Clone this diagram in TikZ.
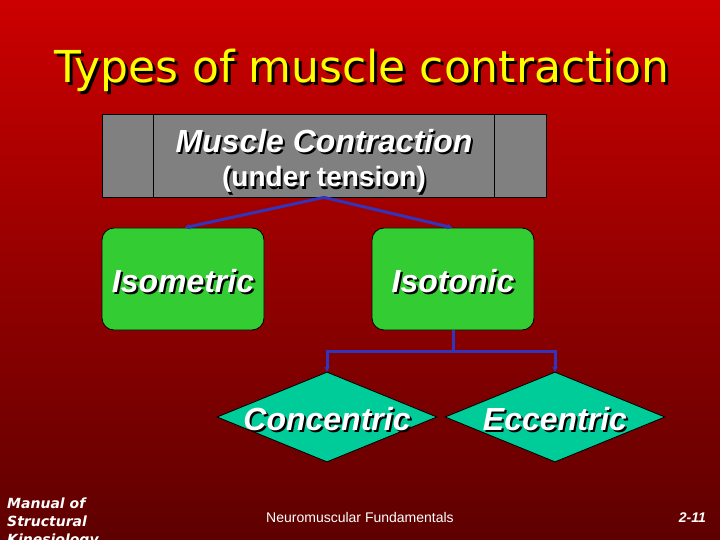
\documentclass[tikz,border=0pt]{standalone}
\usepackage{fontspec}
\setmainfont{Liberation Sans}
\newfontfamily\dejavu{DejaVu Sans}
\usetikzlibrary{arrows.meta, positioning, shapes.geometric}
\definecolor{cred}{HTML}{CC0000}
\definecolor{cdark}{HTML}{5E0000}
\definecolor{cgrey}{HTML}{808080}
\definecolor{cgreen}{HTML}{33CC33}
\definecolor{cteal}{HTML}{00CC99}
\definecolor{cblue}{HTML}{3333BB}
\definecolor{cyellow}{HTML}{FFFF00}
% text with a dark drop shadow
\newcommand{\shtext}[2][2pt]{\rlap{\kern#1\raisebox{-#1}{\color{black}#2}}#2}
\tikzset{
  box/.style={draw=black, fill=#1, line width=0.8pt, inner sep=0pt},
  box/.default=cgrey,
  diam/.style={diamond, draw=black, fill=cteal, line width=0.8pt, inner sep=0pt, minimum width=220pt, minimum height=90pt},
  bigtext/.style={text=white, font=\fontsize{32}{36}\selectfont\bfseries\itshape},
  arrow/.style={-{Stealth[length=5pt, width=6pt]}, draw=cblue, line width=3pt},
  foot/.style={text=white, inner sep=0pt},
}

\begin{document}
\begin{tikzpicture}[x=1pt, y=-1pt]
  \useasboundingbox (0,0) rectangle (720,540);
  \clip (0,0) rectangle (720,540);
  \shade[top color=cred, bottom color=cdark] (0,0) rectangle (720,540);
  % title
  \node[text=cyellow, font=\dejavu\fontsize{44}{48}\selectfont, anchor=base] (title) at (362,83) {\shtext[3pt]{Types of muscle contraction}};
  % top box
  \node[box, minimum width=444pt, minimum height=83pt] (mc) at (324,155.5) {};
  \draw[line width=0.8pt] ([xshift=52pt]mc.north west) -- ([xshift=52pt]mc.south west);
  \draw[line width=0.8pt] ([xshift=-52pt]mc.north east) -- ([xshift=-52pt]mc.south east);
  \node[bigtext, anchor=base] (mctitle) at (324,153) {\shtext{Muscle Contraction}};
  \node[text=white, font=\fontsize{28}{32}\selectfont\bfseries, anchor=base] (mcsub) at (324,187) {\shtext{(under tension)}};
  % second row
  \node[box=cgreen, rounded corners=12pt, minimum width=162pt, minimum height=102pt] (isom) at (183,279) {};
  \node[box=cgreen, rounded corners=12pt, minimum width=162pt, minimum height=102pt] (isot) at (453,279) {};
  \node[bigtext] (isomtext) at (183,282) {\shtext{Isometric}};
  \node[bigtext] (isottext) at (453,282) {\shtext{Isotonic}};
  \draw[arrow] (mc.south) -- ([xshift=2pt]isom.north);
  \draw[arrow] (mc.south) -- ([xshift=-1pt]isot.north);
  % third row
  \node[diam, label={[bigtext, yshift=-3pt]center:\shtext{Concentric}}] (conc) at (327,417) {};
  \node[diam, label={[bigtext, yshift=-3pt]center:\shtext{Eccentric}}] (ecc) at (555,417) {};
  \coordinate (split) at ([yshift=-21pt]isot.south);
  \draw[draw=cblue, line width=3pt] (isot.south) -- (split);
  \draw[arrow] (split) -| (conc.north);
  \draw[arrow] (split) -| (ecc.north);
  % footer
  \node[foot, font=\dejavu\fontsize{14}{18}\selectfont\bfseries\itshape, align=left, anchor=north west] (book) at (7,498) {Manual of\\Structural\\Kinesiology};
  \node[foot, font=\fontsize{14}{16}\selectfont, anchor=base] (chapter) at (360,522) {Neuromuscular Fundamentals};
  \node[foot, font=\fontsize{14}{16}\selectfont\bfseries\itshape, anchor=base east] (page) at (706,522) {2-11};
\end{tikzpicture}
\end{document}
